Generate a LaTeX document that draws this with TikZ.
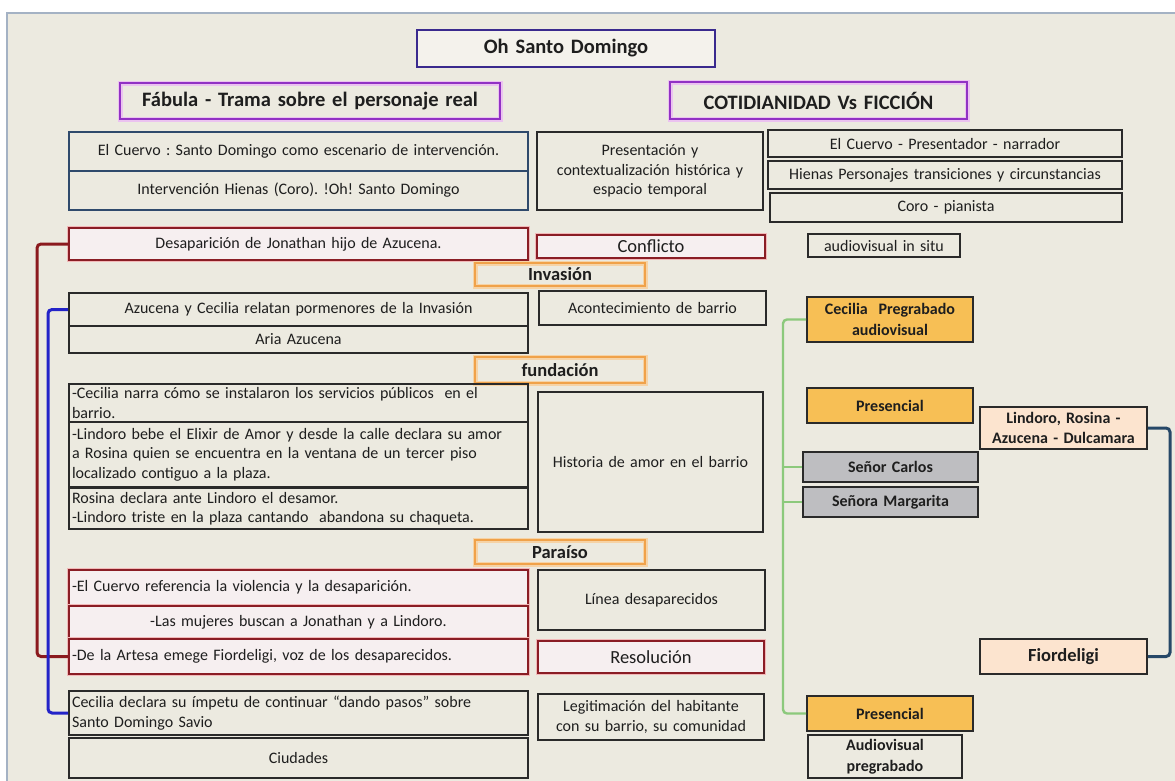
\documentclass[tikz,border=0pt]{standalone}
\usepackage{fontspec}
\setmainfont{Carlito}
\frenchspacing
\definecolor{paper}{HTML}{ECEAE0}
\definecolor{panelbd}{HTML}{A4B2C4}
\definecolor{ink}{HTML}{1E1E1E}
\definecolor{boxline}{HTML}{2A2A2A}
\definecolor{titlebd}{HTML}{3A2A8E}
\definecolor{purplebd}{HTML}{9131C4}
\definecolor{purpleglow}{HTML}{EBC2F0}
\definecolor{bluebd}{HTML}{2F4A6C}
\definecolor{redbd}{HTML}{8A1D25}
\definecolor{redglow}{HTML}{F2B8B8}
\definecolor{redfill}{HTML}{F6EFF0}
\definecolor{secbd}{HTML}{F0A24A}
\definecolor{secglow}{HTML}{F6D3A6}
\definecolor{orangefill}{HTML}{F7BF55}
\definecolor{peachfill}{HTML}{FCE4CF}
\definecolor{greyfill}{HTML}{BEBEC1}
\definecolor{greenln}{HTML}{8CC97C}
\definecolor{redbr}{HTML}{8B1A1E}
\definecolor{bluebr}{HTML}{2323C8}
\definecolor{tealbr}{HTML}{264868}

% box from corner (#3,#4) to corner (#5,#6), style #1, name #2, text #7
\newcommand\pbox[7]{%
  \pgfmathsetmacro\qW{#5-#3}%
  \pgfmathsetmacro\qH{#6-#4}%
  \pgfmathsetmacro\qT{#5-#3-6}%
  \pgfmathsetmacro\qX{(#3+#5)/2}%
  \pgfmathsetmacro\qY{(#4+#6)/2}%
  \node[#1, minimum width=\qW pt, minimum height=\qH pt, text width=\qT pt] (#2) at (\qX,\qY) {#7};%
}

\begin{document}
\begin{tikzpicture}[x=1pt,y=-1pt,
  base/.style={draw=boxline, line width=1.8pt, inner xsep=3pt, inner ysep=1pt,
    align=center, text=ink, font=\fontsize{16}{19.5}\selectfont},
  plain/.style={base},
  leftbox/.style={align=left},
  bigfont/.style={font=\fontsize{18.5}{22}\selectfont},
  boldtext/.style={font=\bfseries\fontsize{16}{20.5}\selectfont},
  bigbold/.style={font=\bfseries\fontsize{18.5}{22}\selectfont},
  titlebox/.style={base, draw=titlebd, line width=2.6pt, fill=paper!60!white,
    font=\bfseries\fontsize{20.5}{24}\selectfont},
  headbox/.style={base, draw=purplebd, line width=2.4pt,
    preaction={draw=purpleglow, line width=5pt},
    font=\bfseries\fontsize{20.5}{24}\selectfont},
  bluebox/.style={base, draw=bluebd, line width=2.3pt},
  redbox/.style={base, draw=redbd, line width=2.1pt, fill=redfill,
    preaction={draw=redglow, line width=4pt}},
  secbox/.style={base, draw=secbd, line width=2.6pt,
    preaction={draw=secglow, line width=5pt},
    font=\bfseries\fontsize{18.5}{22}\selectfont},
  orangebox/.style={base, fill=orangefill, boldtext},
  peachbox/.style={base, fill=peachfill, boldtext},
  greybox/.style={base, fill=greyfill, boldtext},
  bracket/.style={line width=3pt, rounded corners=4pt},
  greenbr/.style={draw=greenln, line width=2.4pt, rounded corners=4pt}
]
\useasboundingbox (0,0) rectangle (1175,780);
\fill[white] (0,0) rectangle (1175,780);
\filldraw[fill=paper, draw=panelbd, line width=1.5pt] (7,13) rectangle (1190,795);

% headings
\pbox{titlebox}{title}{417}{30}{715}{67}{Oh Santo Domingo}
\pbox{headbox}{fabula}{120}{83}{500}{119}{Fábula - Trama sobre el personaje real}
\pbox{headbox}{cotid}{670}{82}{967}{119}{COTIDIANIDAD Vs FICCIÓN}

% first block
\pbox{bluebox}{cuervo}{69}{132}{528}{171}{El Cuervo : Santo Domingo como escenario de intervención.}
\pbox{bluebox}{hienas}{69}{171}{528}{210}{Intervención Hienas (Coro). !Oh! Santo Domingo}
\pbox{plain}{present}{537}{132}{763}{210}{Presentación y\\contextualización histórica y\\espacio temporal}
\pbox{plain}{narr}{768}{130}{1122}{157}{El Cuervo - Presentador - narrador}
\pbox{plain}{pers}{768}{161}{1122}{189}{Hienas Personajes transiciones y circunstancias}
\pbox{plain}{coro}{770}{193}{1122}{222}{Coro - pianista}

% conflict
\pbox{redbox}{desap}{69}{228}{528}{260}{Desaparición de Jonathan hijo de Azucena.}
\pbox{redbox,bigfont}{confl}{537}{235}{765}{258}{Conflicto}
\pbox{plain}{insitu}{808}{234}{960}{257}{audiovisual in situ}

% invasion
\pbox{secbox}{invas}{475}{263}{645}{286}{Invasión}
\pbox{plain}{azuc}{69}{293}{528}{326}{Azucena y Cecilia relatan pormenores de la Invasión}
\pbox{plain}{aria}{69}{326}{528}{353}{Aria Azucena}
\pbox{plain}{acont}{539}{291}{766}{325}{Acontecimiento de barrio}

% foundation
\pbox{secbox}{funda}{475}{357}{645}{383}{fundación}
\pbox{plain,leftbox}{servic}{69}{384}{528}{422}{-Cecilia narra cómo se instalaron los servicios públicos\ \ en el\\barrio.}
\pbox{plain,leftbox}{elixir}{69}{422}{528}{487}{-Lindoro bebe el Elixir de Amor y desde la calle declara su amor\\a Rosina quien se encuentra en la ventana de un tercer piso\\localizado contiguo a la plaza.}
\pbox{plain,leftbox}{desamor}{69}{488}{528}{529}{Rosina declara ante Lindoro el desamor.\\-Lindoro triste en la plaza cantando\ \ abandona su chaqueta.}
\pbox{plain}{historia}{538}{392}{763}{532}{Historia de amor en el barrio}

% paradise
\pbox{secbox}{parai}{475}{540}{645}{564}{Paraíso}
\pbox{redbox,leftbox}{violen}{69}{570}{528}{605}{-El Cuervo referencia la violencia y la desaparición.}
\pbox{redbox}{mujeres}{69}{606}{528}{638}{-Las mujeres buscan a Jonathan y a Lindoro.}
\pbox{redbox,leftbox}{artesa}{69}{639}{528}{674}{-De la Artesa emege Fiordeligi, voz de los desaparecidos.}
\pbox{plain}{linea}{538}{570}{765}{630}{Línea desaparecidos}
\pbox{redbox,bigfont}{resol}{538}{641}{764}{673}{Resolución}

% closing
\pbox{plain,leftbox}{impetu}{69}{691}{528}{735}{Cecilia declara su ímpetu de continuar “dando pasos” sobre\\Santo Domingo Savio}
\pbox{plain}{ciudad}{69}{738}{528}{778}{Ciudades}
\pbox{plain}{legit}{538}{694}{764}{740}{Legitimación del habitante\\con su barrio, su comunidad}

% right-hand column
\pbox{orangebox}{cecpre}{807}{297}{973}{342}{Cecilia\ \ Pregrabado\\audiovisual}
\pbox{orangebox}{pres1}{807}{388}{973}{423}{Presencial}
\pbox{peachbox}{lind}{980}{407}{1147}{449}{Lindoro, Rosina -\\Azucena - Dulcamara}
\pbox{greybox}{carlos}{803}{452}{978}{482}{Señor Carlos}
\pbox{greybox}{marga}{803}{487}{978}{517}{Señora Margarita}
\pbox{peachbox,bigbold}{fior}{980}{639}{1147}{674}{Fiordeligi}
\pbox{orangebox}{pres2}{807}{696}{973}{731}{Presencial}
\pbox{plain,boldtext}{audpre}{808}{735}{962}{778}{Audiovisual\\pregrabado}

% connectors
\coordinate (gx) at (783,0);
\coordinate (rx) at (37,0);
\coordinate (bx) at (48,0);
\coordinate (tx) at (1170,0);
\draw[bracket, draw=redbr] (desap.west) -- (desap.west -| rx) |- (artesa.west);
\draw[bracket, draw=bluebr] (azuc.west) -- (azuc.west -| bx) |- (impetu.west);
\draw[greenbr] (cecpre.west) -- (cecpre.west -| gx) |- (pres2.west);
\draw[greenbr] (carlos.west) -- (carlos.west -| gx);
\draw[greenbr] (marga.west) -- (marga.west -| gx);
\draw[bracket, draw=tealbr] (lind.east) -- (lind.east -| tx) |- (fior.east);
\end{tikzpicture}
\end{document}
